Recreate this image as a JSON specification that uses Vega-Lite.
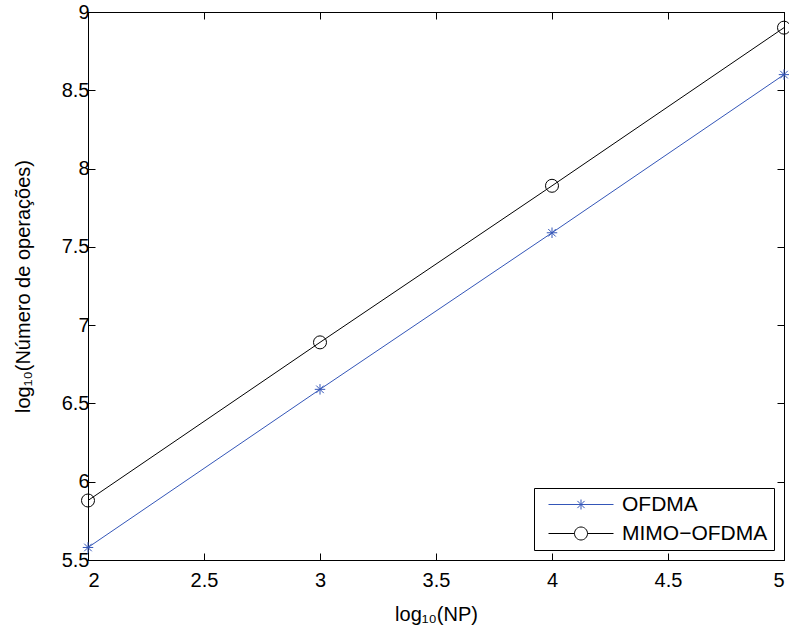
{
  "$schema": "https://vega.github.io/schema/vega-lite/v6.json",
  "width": 696,
  "height": 548,
  "autosize": {"type": "none"},
  "padding": {"left": 88, "top": 12, "right": 5, "bottom": 66},
  "background": "white",
  "config": {
    "font": "Liberation Sans",
    "view": {"stroke": "black", "strokeWidth": 1},
    "axis": {
      "grid": false,
      "domainColor": "black",
      "tickColor": "black",
      "labelColor": "black",
      "titleColor": "black",
      "labelFontSize": 20,
      "titleFontSize": 20,
      "titleFontWeight": "normal",
      "labelFont": "Liberation Sans",
      "titleFont": "Liberation Sans"
    }
  },
  "data": {
    "values": [
      {"x": 2, "y": 5.58, "series": "OFDMA"},
      {"x": 3, "y": 6.59, "series": "OFDMA"},
      {"x": 4, "y": 7.59, "series": "OFDMA"},
      {"x": 5, "y": 8.6, "series": "OFDMA"},
      {"x": 2, "y": 5.88, "series": "MIMO-OFDMA"},
      {"x": 3, "y": 6.89, "series": "MIMO-OFDMA"},
      {"x": 4, "y": 7.89, "series": "MIMO-OFDMA"},
      {"x": 5, "y": 8.9, "series": "MIMO-OFDMA"}
    ]
  },
  "layer": [
    {
      "mark": {"type": "line", "strokeWidth": 1},
      "encoding": {
        "x": {"field": "x", "type": "quantitative",
          "scale": {"domain": [2, 5], "nice": false, "zero": false},
          "axis": {"orient": "bottom", "values": [2, 2.5, 3, 3.5, 4, 4.5, 5], "format": "~g", "tickSize": -7, "labelPadding": 17, "title": "log₁₀(NP)", "titlePadding": 14}},
        "y": {"field": "y", "type": "quantitative",
          "scale": {"domain": [5.5, 9], "nice": false, "zero": false},
          "axis": {"orient": "left", "values": [5.5, 6, 6.5, 7, 7.5, 8, 8.5, 9], "format": "~g", "tickSize": -7, "labelPadding": 6, "title": "log₁₀(Número de operações)", "titlePadding": 28}},
        "color": {"field": "series", "type": "nominal",
          "scale": {"domain": ["OFDMA", "MIMO-OFDMA"], "range": ["#3456b8", "#000000"]},
          "legend": {
            "title": null,
            "orient": "bottom-right",
            "offset": 10,
            "padding": 6,
            "symbolOffset": 53,
            "strokeColor": "black",
            "fillColor": "white",
            "cornerRadius": 0,
            "labelFontSize": 21,
            "labelColor": "black",
            "labelFont": "Liberation Sans",
            "labelOffset": 8,
            "rowPadding": 7,
            "symbolSize": 400,
            "symbolFillColor": "transparent",
            "symbolStrokeWidth": 1,
            "labelExpr": "replace(datum.label, '-', '−')"
          }}
      }
    },
    {
      "transform": [{"filter": "datum.series === 'OFDMA'"}],
      "mark": {"type": "point", "filled": false, "strokeWidth": 1, "opacity": 1, "size": 110,
        "shape": "M-1,0L1,0M0,-1L0,1M-0.72,-0.72L0.72,0.72M-0.72,0.72L0.72,-0.72"},
      "encoding": {
        "x": {"field": "x", "type": "quantitative", "axis": null},
        "y": {"field": "y", "type": "quantitative", "axis": null},
        "color": {"field": "series", "type": "nominal"}
      }
    },
    {
      "transform": [{"filter": "datum.series === 'MIMO-OFDMA'"}],
      "mark": {"type": "point", "filled": false, "strokeWidth": 1, "opacity": 1, "size": 169, "shape": "circle"},
      "encoding": {
        "x": {"field": "x", "type": "quantitative", "axis": null},
        "y": {"field": "y", "type": "quantitative", "axis": null},
        "color": {"field": "series", "type": "nominal"}
      }
    },
    {
      "transform": [{"filter": "false"}],
      "mark": {"type": "point", "filled": false, "strokeWidth": 1, "opacity": 1},
      "encoding": {
        "color": {"field": "series", "type": "nominal"},
        "shape": {"field": "series", "type": "nominal",
          "scale": {"domain": ["OFDMA", "MIMO-OFDMA"], "range": [
            "M-5.5,0L1,0M-2.25,-0.5L-2.25,0.5M-2.75,0L-1.75,0M-2.61,-0.36L-1.89,0.36M-2.61,0.36L-1.89,-0.36",
            "M-5.5,0L-2.9,0M-1.6,0L1,0M-1.6,0A0.65,0.65 0 1,1 -2.9,0A0.65,0.65 0 1,1 -1.6,0"]}}
      }
    },
    {
      "mark": {"type": "point", "opacity": 0},
      "encoding": {
        "x": {"field": "x", "type": "quantitative",
          "axis": {"orient": "top", "values": [2, 2.5, 3, 3.5, 4, 4.5, 5], "tickSize": -7, "labels": false, "title": null}},
        "y": {"field": "y", "type": "quantitative",
          "axis": {"orient": "right", "values": [5.5, 6, 6.5, 7, 7.5, 8, 8.5, 9], "tickSize": -7, "labels": false, "title": null}}
      }
    }
  ],
  "resolve": {"axis": {"x": "independent", "y": "independent"}}
}
